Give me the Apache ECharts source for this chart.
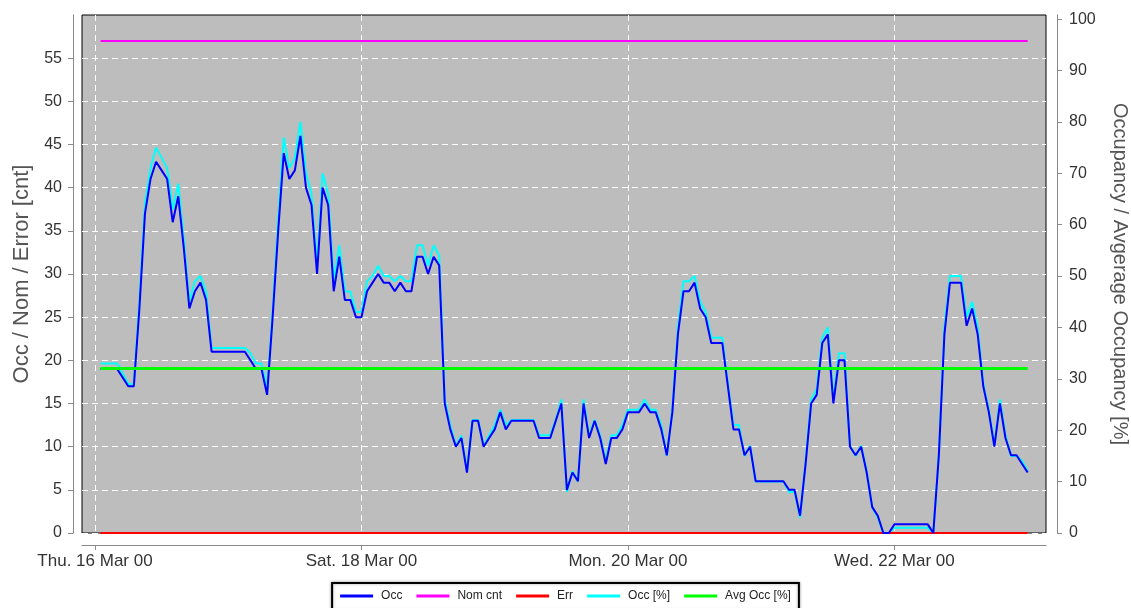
<!DOCTYPE html>
<html>
<head>
<meta charset="utf-8">
<script src="https://cdn.jsdelivr.net/npm/echarts@6/dist/echarts.min.js"></script>
<style>
html,body{margin:0;padding:0;background:#fff;}
#chart{width:1131px;height:608px;}
</style>
</head>
<body>
<div id="chart"></div>
<script>
// Hourly samples, hour 1 .. 168 after Thu 16 Mar 2000 00:00
const firstHour = 1;
const occ = [
  19,19,19,19,18,17,17,26,37,41,43,42,41,36,39,33,26,28,29,27,
  21,21,21,21,21,21,21,20,19,19,16,25,35,44,41,42,46,40,38,30,
  40,38,28,32,27,27,25,25,28,29,30,29,29,28,29,28,28,32,32,30,
  32,31,15,12,10,11,7,13,13,10,11,12,14,12,13,13,13,13,13,11,
  11,11,13,15,5,7,6,15,11,13,11,8,11,11,12,14,14,14,15,14,
  14,12,9,14,23,28,28,29,26,25,22,22,22,17,12,12,9,10,6,6,
  6,6,6,6,5,5,2,8,15,16,22,23,15,20,20,10,9,10,7,3,
  2,0,0,1,1,1,1,1,1,1,0,9,23,29,29,29,24,26,23,17,
  14,10,15,11,9,9,8,7
];
const occPct = [
  33,33,33,33,31,29,29,45,64,71,75,73,71,63,68,57,45,49,50,47,
  36,36,36,36,36,36,36,35,33,33,28,43,61,77,71,73,80,70,66,52,
  70,66,49,56,47,47,43,43,49,50,52,50,50,49,50,49,49,56,56,52,
  56,54,26,21,17,19,12,22,22,17,19,21,24,21,22,22,22,22,22,19,
  19,19,22,26,8,12,10,26,19,22,19,14,19,19,21,24,24,24,26,24,
  24,21,15,24,40,49,49,50,45,43,38,38,38,29,21,21,15,17,10,10,
  10,10,10,10,8,8,3,14,26,28,38,40,26,35,35,17,15,17,12,5,
  3,0,0,1,1,1,1,1,1,1,0,15,40,50,50,50,42,45,40,29,
  24,17,26,19,15,15,14,12
];
const nomCnt = 57;
const errCnt = 0;
const avgOccPct = 32;
const xTickHours = [0, 48, 96, 144];
const xTickLabels = ['Thu. 16 Mar 00', 'Sat. 18 Mar 00', 'Mon. 20 Mar 00', 'Wed. 22 Mar 00'];
const leftTicks = [0,5,10,15,20,25,30,35,40,45,50,55];
const rightTicks = [0,10,20,30,40,50,60,70,80,90,100];
const seriesNames = ['Occ', 'Nom cnt', 'Err', 'Occ [%]', 'Avg Occ [%]'];

const hours = occ.map((_, i) => firstHour + i);
const lastHour = hours[hours.length - 1];
const FONT = '"Liberation Sans", Arial, sans-serif';

const chart = echarts.init(document.getElementById('chart'), null, {renderer: 'canvas'});
const dashed = {color: '#ffffff', type: [6, 4], width: 1};
chart.setOption({
  animation: false,
  backgroundColor: '#ffffff',
  textStyle: {fontFamily: FONT},
  grid: {
    left: 82, right: 85, top: 15, bottom: 75,
    containLabel: false, outerBoundsMode: 'none',
    show: true, backgroundColor: '#bdbdbd', borderColor: '#000000', borderWidth: 1
  },
  legend: {
    data: seriesNames,
    left: 'center', top: 583,
    icon: 'rect', itemWidth: 33, itemHeight: 3, itemGap: 14,
    padding: [7, 8, 9, 8],
    borderColor: '#000', borderWidth: 2,
    backgroundColor: '#fff',
    shadowColor: 'rgba(0,0,0,0.35)', shadowBlur: 3,
    textStyle: {fontSize: 12, color: '#222', fontFamily: FONT, padding: [0, 0, 0, 3]}
  },
  xAxis: {
    type: 'value', min: -2.34, max: 171.3,
    offset: 12,
    axisLine: {show: true, onZero: false, lineStyle: {color: '#8a8a8a', width: 1}},
    axisTick: {show: true, length: 5, customValues: xTickHours, lineStyle: {color: '#8a8a8a'}},
    axisLabel: {
      customValues: xTickHours, margin: 8, fontSize: 17, color: '#333', fontFamily: FONT,
      formatter: v => { const i = xTickHours.indexOf(v); return i >= 0 ? xTickLabels[i] : ''; }
    },
    splitLine: {show: true, lineStyle: dashed}
  },
  yAxis: [
    {
      type: 'value', min: 0, max: 60, interval: 5, position: 'left', offset: 9,
      name: 'Occ / Nom / Error [cnt]', nameLocation: 'middle', nameGap: 40, nameRotate: 90,
      nameTextStyle: {fontSize: 22, color: '#555', fontFamily: FONT},
      axisLine: {show: true, onZero: false, lineStyle: {color: '#8a8a8a', width: 1}},
      axisTick: {show: true, length: 5, customValues: leftTicks, lineStyle: {color: '#8a8a8a'}},
      axisLabel: {customValues: leftTicks, margin: 11, fontSize: 16, color: '#333', fontFamily: FONT},
      splitLine: {show: true, lineStyle: dashed}
    },
    {
      type: 'value', min: 0, max: 100.8, position: 'right', offset: 11,
      name: 'Occupancy / Avgerage Occupancy [%]', nameLocation: 'middle', nameGap: 53, nameRotate: -90,
      nameTextStyle: {fontSize: 20, color: '#555', fontFamily: FONT},
      axisLine: {show: true, onZero: false, lineStyle: {color: '#8a8a8a', width: 1}},
      axisTick: {show: true, length: 5, customValues: rightTicks, lineStyle: {color: '#8a8a8a'}},
      axisLabel: {customValues: rightTicks, margin: 12, fontSize: 16, color: '#333', fontFamily: FONT},
      splitLine: {show: false}
    }
  ],
  series: [
    {
      name: seriesNames[0], type: 'line', yAxisIndex: 0, z: 4, symbol: 'none',
      color: '#0000ff', lineStyle: {width: 2, color: '#0000ff'},
      data: hours.map((h, i) => [h, occ[i]])
    },
    {
      name: seriesNames[1], type: 'line', yAxisIndex: 0, z: 3, symbol: 'none',
      color: '#ff00ff', lineStyle: {width: 2, color: '#ff00ff'},
      data: [[firstHour, nomCnt], [lastHour, nomCnt]]
    },
    {
      name: seriesNames[2], type: 'line', yAxisIndex: 0, z: 3, symbol: 'none',
      color: '#ff0000', lineStyle: {width: 2, color: '#ff0000'},
      data: [[firstHour, errCnt], [lastHour, errCnt]]
    },
    {
      name: seriesNames[3], type: 'line', yAxisIndex: 1, z: 2, symbol: 'none',
      color: '#00ffff', lineStyle: {width: 2, color: '#00ffff'},
      data: hours.map((h, i) => [h, occPct[i]])
    },
    {
      name: seriesNames[4], type: 'line', yAxisIndex: 1, z: 5, symbol: 'none',
      color: '#00ff00', lineStyle: {width: 3, color: '#00ff00'},
      data: [[firstHour, avgOccPct], [lastHour, avgOccPct]]
    }
  ]
});
</script>
</body>
</html>
